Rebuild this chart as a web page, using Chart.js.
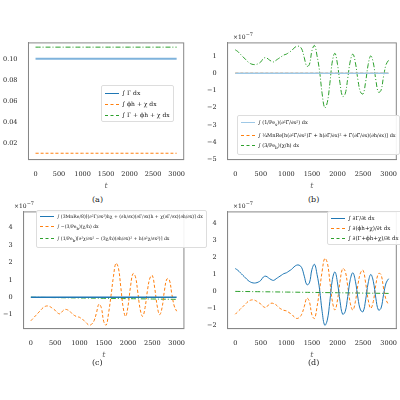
<!DOCTYPE html>
<html><head><meta charset="utf-8">
<script src="https://cdn.jsdelivr.net/npm/chart.js@4"></script>
<style>
body{margin:0;width:400px;height:400px;background:#fff;font-family:"DejaVu Serif",serif;position:relative;overflow:hidden}
.p{position:absolute}
.cap{position:absolute;font-size:8px;color:#222}
.leg{position:absolute;background:rgba(255,255,255,0.9);border:1px solid #ddd;border-radius:2px;font-size:5.5px;padding:1px 3px;line-height:10px;color:#111;white-space:nowrap}
.leg i{display:inline-block;width:14px;height:0;vertical-align:middle;margin-right:3px}
</style></head><body>
<canvas id="a" class="p" style="left:0;top:36px;width:188px;height:155px"></canvas>
<canvas id="b" class="p" style="left:204px;top:36px;width:196px;height:155px"></canvas>
<canvas id="c" class="p" style="left:0;top:205px;width:188px;height:155px"></canvas>
<canvas id="d" class="p" style="left:204px;top:205px;width:196px;height:155px"></canvas>
<div class="cap" style="left:92px;top:195px">(a)</div>
<div class="cap" style="left:308px;top:195px">(b)</div>
<div class="cap" style="left:92px;top:358px">(c)</div>
<div class="cap" style="left:308px;top:358px">(d)</div>
<div class="cap" style="left:233px;top:31px;font-size:6px">×10<sup>−7</sup></div>
<div class="cap" style="left:14px;top:200px;font-size:6px">×10<sup>−7</sup></div>
<div class="cap" style="left:233px;top:200px;font-size:6px">×10<sup>−7</sup></div>
<div class="leg" style="left:101px;top:85px;font-size:6px;line-height:11px"><i style="border-top:1.2px solid #1f77b4"></i>∫ Γ dx<br><i style="border-top:1.2px dashed #ff7f0e"></i>∫ ϕh + χ dx<br><i style="border-top:1.2px dashed #2ca02c"></i>∫ Γ + ϕh + χ dx</div>
<div class="leg" style="left:237px;top:115px;font-size:5px"><i style="border-top:1.2px solid #9ec8e6"></i>∫ (1/Pe<sub>s</sub>)(∂²Γ/∂x²) dx<br><i style="border-top:1.2px dashed #ff7f0e"></i>∫ ¼MnRe[h(∂²Γ/∂x²)Γ + h(∂Γ/∂x)² + Γ(∂Γ/∂x)(∂h/∂x)] dx<br><i style="border-top:1.2px dashed #2ca02c"></i>∫ (3/Pe<sub>b</sub>)(χ/h) dx</div>
<div class="leg" style="left:36px;top:210px;font-size:4.6px"><i style="border-top:1.2px solid #1f77b4"></i>∫ (3MnRe/8)[(∂²Γ/∂x²)hχ + (∂h/∂x)(∂Γ/∂x)h + χ(∂Γ/∂x)(∂h/∂x)] dx<br><i style="border-top:1.2px dashed #ff7f0e"></i>∫ −(3/Pe<sub>b</sub>)(χ/h) dx<br><i style="border-top:1.2px dashed #2ca02c"></i>∫ (1/Pe<sub>b</sub>)[∂²χ/∂x² − (3χ/h)(∂h/∂x)² + h(∂²χ/∂x²)] dx</div>
<div class="leg" style="left:327px;top:211px"><i style="border-top:1.2px solid #1f77b4"></i>∫ ∂Γ/∂t dx<br><i style="border-top:1.2px dashed #ff7f0e"></i>∫ ∂(ϕh+χ)/∂t dx<br><i style="border-top:1.2px dashed #2ca02c"></i>∫ ∂(Γ+ϕh+χ)/∂t dx</div>
<script>
// time grid (50 step) and values, units of 1e-7
const T = [0,50,100,150,200,250,300,350,400,450,500,550,600,650,700,750,800,850,900,950,1000,1050,1100,1150,1200,1250,1300,1350,1400,1450,1500,1550,1600,1650,1700,1750,1800,1850,1900,1950,2000,2050,2100,2150,2200,2250,2300,2350,2400,2450,2500,2550,2600,2650,2700,2750,2800,2850,2900,2950,3000];
const dGamma = [1.35,1.25,1.1,0.95,0.8,0.65,0.55,0.5,0.5,0.55,0.65,0.85,0.9,0.8,0.7,0.65,0.75,0.85,0.95,1.05,1.1,1.2,1.3,1.45,1.55,1.55,1.4,0.9,0.4,0.5,1.3,1.6,1.0,0.1,-1.2,-2.0,-1.7,-0.6,0.7,1.15,0.5,-0.6,-1.35,-1.2,-0.3,0.7,1.1,0.6,-0.4,-1.1,-1.2,-0.5,0.5,1.0,0.6,-0.4,-1.1,-1.0,-0.2,0.5,0.75];
const dPhi = [-1.35,-1.2,-1.05,-0.9,-0.75,-0.6,-0.52,-0.5,-0.55,-0.65,-0.75,-0.9,-0.95,-0.8,-0.7,-0.72,-0.8,-0.95,-1.05,-1.12,-1.15,-1.25,-1.35,-1.5,-1.6,-1.55,-1.35,-0.9,-0.4,-0.6,-1.4,-1.6,-0.9,0.1,1.2,1.95,1.7,0.6,-0.6,-1.1,-0.5,0.6,1.35,1.2,0.3,-0.7,-1.1,-0.6,0.4,1.1,1.25,0.5,-0.5,-1.0,-0.6,0.4,1.05,1.0,0.2,-0.5,-0.8];
const Tc = [0,500,1000,1500,2000,2500,3000];
const small = [0,-0.02,-0.04,-0.06,-0.08,-0.1,-0.12];
const flat = [0,0,0,0,0,0,0];
const gammaA = [0.1,0.1,0.1,0.1,0.1,0.1,0.1];
const phiA = [0.011,0.011,0.011,0.011,0.011,0.011,0.011];
const totA = [0.111,0.111,0.111,0.111,0.111,0.111,0.111];
const xTicks = [0,500,1000,1500,2000,2500,3000];

const pts = (xs, ys) => xs.map((x, i) => ({x: x, y: ys[i]}));
const B = '#1f77b4', O = '#ff7f0e', G = '#2ca02c';
const font = {family: 'DejaVu Serif', size: 6.5};

// box around the plot area, like matplotlib spines
const frame = {
    id: 'frame',
    afterDraw(chart) {
        const a = chart.chartArea, c = chart.ctx;
        c.save(); c.strokeStyle = '#888'; c.lineWidth = 1;
        c.strokeRect(a.left, a.top, a.right - a.left, a.bottom - a.top);
        c.restore();
    }
};
function ds(data, color, dash, w) {
    return {data: data, borderColor: color, borderDash: dash || [], borderWidth: w || 1, pointRadius: 0, tension: 0.4, fill: false};
}
function make(id, sets, ymin, ymax, step, dec) {
    new Chart(document.getElementById(id), {
        type: 'line',
        data: {datasets: sets},
        plugins: [frame],
        options: {
            responsive: false, animation: false,
            plugins: {legend: {display: false}, tooltip: {enabled: false}},
            layout: {padding: {top: 4, right: 2}},
            scales: {
                x: {type: 'linear', min: -150, max: 3150, grid: {display: false}, border: {color: '#888'},
                    afterBuildTicks: ax => { ax.ticks = xTicks.map(v => ({value: v})); },
                    ticks: {font: font, color: '#222', maxRotation: 0, callback: v => String(v)},
                    title: {display: true, text: 't', font: {family: 'DejaVu Serif', size: 8, style: 'italic'}, padding: 0}},
                y: {min: ymin, max: ymax, grid: {display: false}, border: {color: '#888'},
                    afterBuildTicks: ax => { const t = []; for (let v = Math.ceil(ymin / step) * step; v <= ymax + 1e-9; v += step) t.push({value: +v.toFixed(4)}); ax.ticks = t; },
                    ticks: {font: font, color: '#222', callback: v => v.toFixed(dec).replace('-', '−')}}
            }
        }
    });
}
make('a', [ds(pts(Tc, gammaA), '#7fb3dc', [], 2), ds(pts(Tc, phiA), O, [3, 2]), ds(pts(Tc, totA), G, [5, 2, 1, 2])], 0.005, 0.115, 0.02, 2);
make('b', [ds(pts(Tc, flat), '#9ec8e6', [], 1.5), ds(pts(Tc, flat), O, [3, 2]), ds(pts(T, dGamma), G, [5, 2, 1, 2])], -5, 1.75, 1, 0);
make('c', [ds(pts(Tc, flat), B, [], 1.5), ds(pts(T, dPhi), O, [3, 2]), ds(pts(Tc, small), G, [5, 2, 1, 2])], -1.8, 4.9, 1, 0);
make('d', [ds(pts(T, dGamma), B), ds(pts(T, dPhi), O, [3, 2]), ds(pts(Tc, small), G, [5, 2, 1, 2])], -2.2, 4.7, 1, 0);
</script>
</body></html>
